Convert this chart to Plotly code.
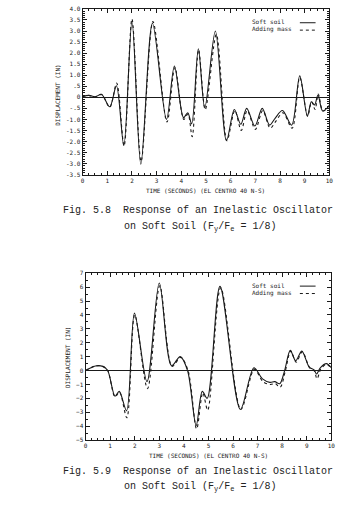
import plotly.graph_objects as go

W, H = 354, 516

# ---------- Fig 5.8 data ----------
t1_soft = [0, 0.25, 0.5, 0.77, 1.1, 1.37, 1.67, 2.0, 2.36, 2.83, 3.4, 3.72, 4.09, 4.26, 4.42, 4.69, 4.95,
           5.38, 5.83, 6.15, 6.41, 6.65, 6.98, 7.28, 7.58, 7.8, 8.1, 8.47, 8.8, 9.11, 9.27, 9.4, 9.54, 9.73, 10]
y1_soft = [0.03, 0.09, 0.02, 0.13, -0.43, 0.52, -2.18, 3.45, -3.03, 3.35, -1.0, 1.42, -0.92, -0.7, -1.2, 2.2, -0.48,
           3.0, -1.96, -0.55, -1.22, -0.5, -1.3, -0.5, -1.26, -0.95, -0.6, -1.26, 0.97, -0.85, -0.2, -0.35, 0.1, -0.62, -0.37]
t1_mass = [0, 0.25, 0.5, 0.77, 1.1, 1.38, 1.68, 2.0, 2.37, 2.85, 3.42, 3.74, 4.1, 4.27, 4.44, 4.7, 4.97,
           5.42, 5.85, 6.17, 6.43, 6.67, 7.0, 7.3, 7.6, 7.82, 8.12, 8.49, 8.8, 9.12, 9.28, 9.42, 9.55, 9.74, 10]
y1_mass = [0.03, 0.09, 0.02, 0.13, -0.45, 0.64, -2.2, 3.55, -2.9, 3.43, -1.12, 1.35, -1.0, -0.75, -1.78, 2.15, -0.55,
           2.85, -1.96, -0.6, -1.5, -0.6, -1.45, -0.6, -1.4, -1.1, -0.7, -1.4, 0.9, -0.85, -0.2, -0.55, 0.15, -0.62, -0.37]
y1_ticks = [-3.5, -3.0, -2.5, -2.0, -1.5, -1.0, -0.5, 0, 0.5, 1.0, 1.5, 2.0, 2.5, 3.0, 3.5, 4.0]
y1_labels = ["-3.5", "-3.0", "-2.5", "-2.0", "-1.5", "-1.0", "-.5", "0", ".5", "1.0", "1.5", "2.0", "2.5", "3.0", "3.5", "4.0"]

# ---------- Fig 5.9 data ----------
t2_soft = [0, 0.4, 0.7, 0.9, 1.2, 1.37, 1.67, 1.99, 2.5, 3.0, 3.5, 3.85, 4.15, 4.5, 4.75, 4.95, 5.47, 6.3,
           6.85, 7.2, 7.5, 7.7, 7.9, 8.1, 8.33, 8.55, 8.8, 9.1, 9.3, 9.4, 9.55, 9.8, 10]
y2_soft = [0, 0.33, 0.3, 0.0, -1.85, -1.5, -2.9, 4.13, -0.8, 6.3, 0.35, 1.0, 0.0, -3.96, -1.5, -2.0, 6.06, -2.8,
           0.2, -0.6, -0.85, -0.8, -0.95, 0.0, 1.45, 0.7, 1.4, 0.25, 0.05, -0.25, 0.2, 0.5, 0.2]
t2_mass = [0, 0.4, 0.7, 0.9, 1.2, 1.38, 1.68, 2.0, 2.52, 3.02, 3.52, 3.87, 4.17, 4.52, 4.77, 4.97, 5.5, 6.32,
           6.87, 7.22, 7.52, 7.72, 7.92, 8.12, 8.35, 8.57, 8.82, 9.12, 9.3, 9.42, 9.57, 9.8, 10]
y2_mass = [0, 0.33, 0.3, 0.0, -1.9, -1.55, -3.4, 4.0, -1.3, 6.1, 0.3, 0.95, 0.0, -4.2, -1.6, -2.85, 5.95, -2.8,
           0.1, -0.8, -1.0, -0.95, -1.2, -0.1, 1.4, 0.6, 1.35, 0.2, 0.0, -0.6, 0.1, 0.45, 0.15]
y2_ticks = [-5, -4, -3, -2, -1, 0, 1, 2, 3, 4, 5, 6, 7]

x_ticks = [0, 1, 2, 3, 4, 5, 6, 7, 8, 9, 10]
series_names = ["Soft soil", "Adding mass"]
x_title = "TIME (SECONDS) (EL CENTRO 40 N-S)"
y_title = "DISPLACEMENT (IN)"
captions = [("Fig. 5.8  Response of an Inelastic Oscillator", "on Soft Soil (F<sub>y</sub>/F<sub>e</sub> = 1/8)"),
            ("Fig. 5.9  Response of an Inelastic Oscillator", "on Soft Soil (F<sub>y</sub>/F<sub>e</sub> = 1/8)")]

INK = "#1a1a1a"
MONO = "DejaVu Sans Mono"
CAP = "Liberation Mono"

def px_x(p):
    return p / W

def px_y(p):
    return 1 - p / H

fig = go.Figure()
line_soft = dict(color=INK, width=1.1, shape="spline", smoothing=0.9)
line_mass = dict(color=INK, width=1.1, dash="dot", shape="spline", smoothing=0.9)

fig.add_trace(go.Scatter(x=t1_soft, y=y1_soft, mode="lines", line=line_soft, name=series_names[0], xaxis="x", yaxis="y"))
fig.add_trace(go.Scatter(x=t1_mass, y=y1_mass, mode="lines", line=line_mass, name=series_names[1], xaxis="x", yaxis="y"))
fig.add_trace(go.Scatter(x=t2_soft, y=y2_soft, mode="lines", line=line_soft, name=series_names[0], xaxis="x2", yaxis="y2"))
fig.add_trace(go.Scatter(x=t2_mass, y=y2_mass, mode="lines", line=line_mass, name=series_names[1], xaxis="x2", yaxis="y2"))

axis_common = dict(showline=True, linecolor=INK, linewidth=1, mirror="allticks", ticks="inside",
                   ticklen=4, tickwidth=1, tickcolor=INK, showgrid=False,
                   tickfont=dict(family=MONO, size=6, color=INK))

# Chart 1 plot area (pixels): x 82..333, y 5..173
# Chart 2 plot area (pixels): x 85..335, y 273..442
fig.update_layout(
    width=W, height=H, margin=dict(l=0, r=0, t=0, b=0),
    paper_bgcolor="white", plot_bgcolor="white", showlegend=False,
    xaxis=dict(domain=[px_x(82), px_x(333)], range=[0, 10], tickvals=x_ticks, anchor="y",
               minor=dict(dtick=0.25, ticks="inside", ticklen=2, tickcolor=INK), zeroline=False, **axis_common),
    yaxis=dict(domain=[px_y(173), px_y(5)], range=[-3.5, 4.0], tickvals=y1_ticks, ticktext=y1_labels, anchor="x",
               minor=dict(dtick=0.1, ticks="inside", ticklen=2, tickcolor=INK),
               zeroline=True, zerolinecolor=INK, zerolinewidth=1.2, **axis_common),
    xaxis2=dict(domain=[px_x(85), px_x(335)], range=[0, 10], tickvals=x_ticks, anchor="y2",
                minor=dict(dtick=0.25, ticks="inside", ticklen=2, tickcolor=INK), zeroline=False, **axis_common),
    yaxis2=dict(domain=[px_y(442), px_y(273)], range=[-5, 7], tickvals=y2_ticks, anchor="x2",
                minor=dict(dtick=0.5, ticks="inside", ticklen=2, tickcolor=INK),
                zeroline=True, zerolinecolor=INK, zerolinewidth=1.2, **axis_common),
)

ann = []
small = dict(family=MONO, size=6, color=INK)
# axis titles
ann.append(dict(text=x_title, x=px_x(207), y=px_y(189), xref="paper", yref="paper", showarrow=False,
                xanchor="center", yanchor="middle", font=small))
ann.append(dict(text=x_title, x=px_x(210), y=px_y(458), xref="paper", yref="paper", showarrow=False,
                xanchor="center", yanchor="middle", font=small))
ann.append(dict(text=y_title, x=px_x(57), y=px_y(93), xref="paper", yref="paper", showarrow=False,
                textangle=-90, xanchor="center", yanchor="middle", font=small))
ann.append(dict(text=y_title, x=px_x(66), y=px_y(358), xref="paper", yref="paper", showarrow=False,
                textangle=-90, xanchor="center", yanchor="middle", font=small))

# legends
shapes = []
for ty in [18, 285]:
    for i, name in enumerate(series_names):
        yy = ty + i * 7.5
        ann.append(dict(text=name, x=px_x(252), y=px_y(yy), xref="paper", yref="paper", showarrow=False,
                        xanchor="left", yanchor="middle", font=small))
        shapes.append(dict(type="line", xref="paper", yref="paper", x0=px_x(303), x1=px_x(319),
                           y0=px_y(yy + 1), y1=px_y(yy + 1),
                           line=dict(color=INK, width=1, dash="solid" if i == 0 else "dot")))

# captions
cap_font = dict(family=CAP, size=10, color="#222222")
for (l1, l2), (y1, y2) in zip(captions, [(209, 226), (474, 490)]):
    ann.append(dict(text=l1, x=px_x(60), y=px_y(y1), xref="paper", yref="paper", showarrow=False,
                    xanchor="left", yanchor="middle", font=cap_font))
    ann.append(dict(text=l2, x=px_x(122), y=px_y(y2), xref="paper", yref="paper", showarrow=False,
                    xanchor="left", yanchor="middle", font=cap_font))

fig.update_layout(annotations=ann, shapes=shapes)
fig.write_html("out.html")
